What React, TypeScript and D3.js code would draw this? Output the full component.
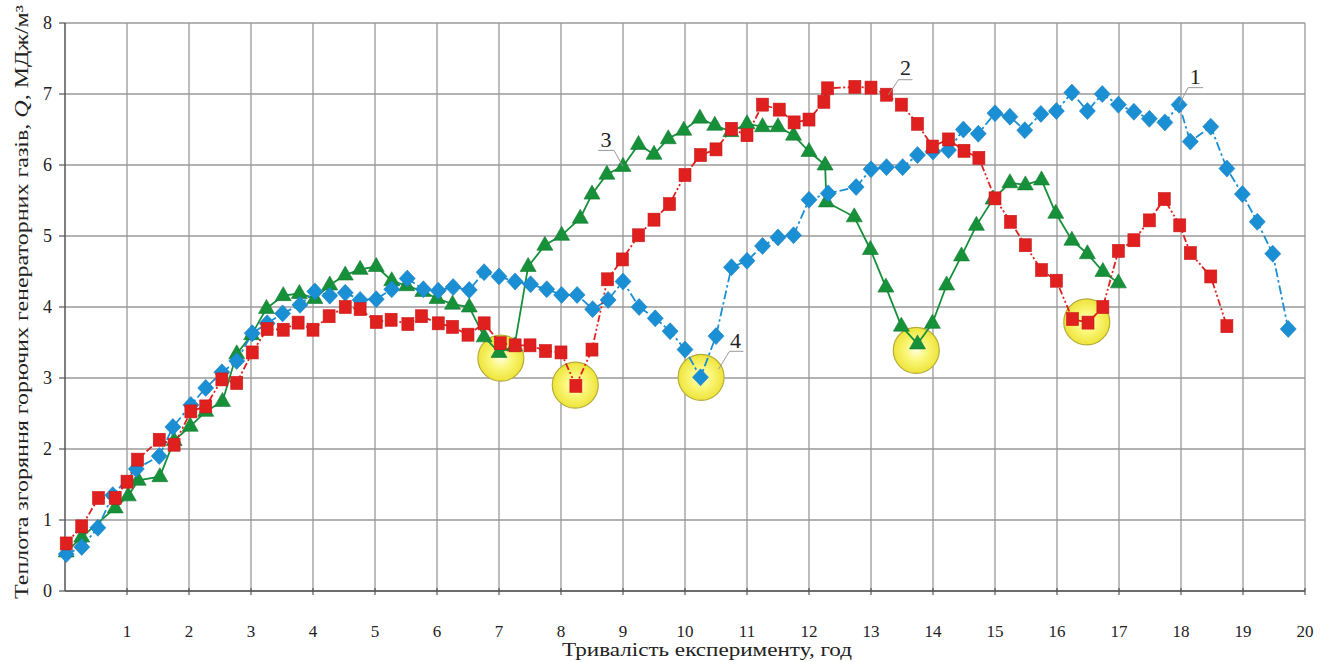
import React from "react";
import * as d3 from "d3";

const xTicks = [1,2,3,4,5,6,7,8,9,10,11,12,13,14,15,16,17,18,19,20];
const yTicks = [0,1,2,3,4,5,6,7,8];

// series 1 (blue diamonds)
const series1: [number, number][] = [
  [0.02,0.52],[0.27,0.62],[0.53,0.89],[0.77,1.35],[1.15,1.72],[1.52,1.90],[1.74,2.31],[2.03,2.62],[2.27,2.86],[2.53,3.08],
  [2.77,3.24],[3.02,3.63],[3.26,3.77],[3.51,3.91],[3.79,4.03],[4.03,4.22],[4.27,4.16],[4.52,4.20],[4.76,4.10],[5.02,4.11],
  [5.27,4.25],[5.52,4.40],[5.78,4.25],[6.02,4.23],[6.26,4.28],[6.52,4.24],[6.76,4.49],[7.0,4.43],[7.26,4.36],[7.51,4.32],
  [7.77,4.25],[8.01,4.17],[8.26,4.17],[8.51,3.97],[8.76,4.10],[9.0,4.36],[9.26,4.00],[9.52,3.84],[9.76,3.66],[10.0,3.40],
  [10.25,3.01],[10.5,3.59],[10.75,4.56],[11.0,4.65],[11.25,4.86],[11.5,4.98],[11.75,5.01],[12.0,5.51],[12.31,5.60],[12.76,5.69],
  [13.0,5.94],[13.25,5.97],[13.51,5.97],[13.75,6.14],[14.0,6.19],[14.25,6.21],[14.49,6.50],[14.73,6.44],[15.0,6.73],[15.24,6.68],
  [15.48,6.49],[15.74,6.72],[15.99,6.76],[16.24,7.02],[16.49,6.76],[16.73,7.0],[16.99,6.85],[17.24,6.75],[17.49,6.65],[17.74,6.60],
  [17.97,6.85],[18.15,6.33],[18.48,6.54],[18.74,5.95],[18.99,5.59],[19.23,5.20],[19.48,4.75],[19.73,3.69]
];

// series 2 (red squares)
const series2: [number, number][] = [
  [0.02,0.67],[0.27,0.91],[0.54,1.31],[0.81,1.31],[1.0,1.54],[1.17,1.85],[1.52,2.13],[1.76,2.06],[2.03,2.53],[2.27,2.60],
  [2.53,2.98],[2.77,2.93],[3.02,3.36],[3.26,3.69],[3.52,3.68],[3.76,3.78],[4.0,3.68],[4.26,3.87],[4.52,4.0],[4.76,3.97],
  [5.02,3.79],[5.26,3.82],[5.53,3.76],[5.75,3.87],[6.02,3.77],[6.25,3.72],[6.5,3.61],[6.76,3.77],[7.02,3.49],[7.26,3.46],
  [7.5,3.46],[7.75,3.38],[8.0,3.36],[8.24,2.89],[8.5,3.40],[8.75,4.39],[8.99,4.67],[9.25,5.01],[9.5,5.23],[9.75,5.45],
  [10.0,5.86],[10.25,6.14],[10.5,6.22],[10.75,6.51],[11.0,6.42],[11.25,6.85],[11.52,6.78],[11.76,6.60],[12.0,6.64],[12.24,6.89],
  [12.3,7.08],[12.74,7.10],[13.0,7.09],[13.25,6.99],[13.49,6.85],[13.75,6.58],[13.99,6.26],[14.25,6.36],[14.5,6.20],[14.74,6.10],
  [15.0,5.53],[15.25,5.20],[15.49,4.87],[15.75,4.52],[15.99,4.37],[16.25,3.83],[16.5,3.78],[16.74,4.0],[16.99,4.79],[17.24,4.94],
  [17.49,5.22],[17.73,5.52],[17.98,5.15],[18.15,4.76],[18.48,4.43],[18.74,3.73]
];

// series 3 (green triangles)
const series3: [number, number][] = [
  [0.02,0.55],[0.27,0.76],[0.81,1.17],[1.02,1.34],[1.18,1.56],[1.53,1.61],[1.76,2.12],[2.02,2.32],[2.27,2.53],[2.54,2.67],
  [2.77,3.34],[3.01,3.61],[3.25,3.98],[3.52,4.16],[3.78,4.19],[4.03,4.12],[4.27,4.31],[4.52,4.45],[4.76,4.53],[5.02,4.57],
  [5.27,4.37],[5.51,4.30],[5.77,4.22],[6.0,4.12],[6.25,4.04],[6.52,4.0],[6.76,3.58],[7.0,3.36],[7.25,3.45],[7.47,4.57],
  [7.74,4.87],[8.01,5.01],[8.31,5.25],[8.5,5.59],[8.74,5.87],[9.0,5.98],[9.25,6.29],[9.5,6.15],[9.73,6.37],[9.98,6.49],
  [10.24,6.66],[10.48,6.56],[10.74,6.47],[11.0,6.58],[11.25,6.54],[11.5,6.54],[11.75,6.42],[12.0,6.19],[12.26,6.0],[12.28,5.48],
  [12.73,5.27],[12.99,4.81],[13.24,4.28],[13.49,3.73],[13.75,3.48],[13.99,3.77],[14.22,4.31],[14.46,4.72],[14.7,5.15],[14.97,5.52],
  [15.24,5.75],[15.49,5.72],[15.75,5.79],[15.98,5.32],[16.24,4.94],[16.49,4.75],[16.74,4.50],[16.99,4.34]
];

// highlighted minima (yellow circles)
const highlights: [number, number][] = [[7.03,3.28],[8.23,2.9],[10.26,3.01],[13.73,3.39],[16.48,3.79]];

// curve number labels: text, anchor x, anchor y
const curveLabels = [
  { text: "1", x: 17.97, y: 6.85 },
  { text: "2", x: 13.25, y: 6.99 },
  { text: "3", x: 9.0, y: 5.98 },
  { text: "4", x: 10.25, y: 3.01 },
];

const W = 1335, H = 662;
const M = { left: 65, right: 1305, top: 23, bottom: 591 };
const FONT = "Liberation Serif, Times New Roman, serif";
const BLUE = "#1b8fd4", RED = "#e0201e", GREEN = "#17903a";

export default function App() {
  const x = d3.scaleLinear().domain([0, 20]).range([M.left, M.right]);
  const y = d3.scaleLinear().domain([0, 8]).range([M.bottom, M.top]);
  const line = d3.line<[number, number]>().x(d => x(d[0])).y(d => y(d[1]));

  const diamond = (px: number, py: number, k: string) => (
    <polygon key={k} points={`${px},${py - 8.5} ${px + 8},${py} ${px},${py + 8.5} ${px - 8},${py}`} fill={BLUE} stroke="#1580c0" strokeWidth={0.6} />
  );
  const square = (px: number, py: number, k: string) => (
    <rect key={k} x={px - 6} y={py - 6.5} width={12} height={13} fill={RED} stroke="#c81818" strokeWidth={0.6} />
  );
  const triangle = (px: number, py: number, k: string) => (
    <polygon key={k} points={`${px},${py - 9} ${px + 8},${py + 5} ${px - 8},${py + 5}`} fill={GREEN} stroke="#127a30" strokeWidth={0.6} />
  );

  const leaderFor = (t: string, px: number, py: number) => {
    if (t === "1") return { path: `M${px},${py} L${px + 9},${py - 17} L${px + 24},${py - 17}`, tx: px + 16, ty: py - 21 };
    if (t === "2") return { path: `M${px + 2},${py} L${px + 12},${py - 15} L${px + 26},${py - 15}`, tx: px + 19, ty: py - 20 };
    if (t === "3") return { path: `M${px},${py} L${px - 9},${py - 16} L${px - 25},${py - 16}`, tx: px - 17, ty: py - 19 };
    return { path: `M${px + 18},${py - 8} L${px + 29},${py - 26} L${px + 43},${py - 26}`, tx: px + 35, ty: py - 29 };
  };

  return (
    <svg width={W} height={H} style={{ position: "absolute", left: 0, top: 0, background: "#fff", fontFamily: FONT }}>
      <defs>
        <radialGradient id="yg" cx="50%" cy="50%" r="50%">
          <stop offset="0%" stopColor="#fffde0" />
          <stop offset="45%" stopColor="#fbf77a" />
          <stop offset="100%" stopColor="#eee43a" />
        </radialGradient>
      </defs>
      <rect x={0} y={0} width={W} height={H} fill="#fff" />
      {xTicks.map(t => (
        <line key={"gx" + t} x1={x(t)} x2={x(t)} y1={M.top} y2={M.bottom} stroke="#9a9a9a" strokeWidth={1.3} />
      ))}
      {yTicks.map(t => (
        <line key={"gy" + t} x1={M.left} x2={M.right} y1={y(t)} y2={y(t)} stroke="#9a9a9a" strokeWidth={1.3} />
      ))}
      <line x1={M.left} x2={M.left} y1={M.top} y2={M.bottom} stroke="#555" strokeWidth={1.5} />
      <line x1={M.left} x2={M.right} y1={M.bottom} y2={M.bottom} stroke="#555" strokeWidth={1.5} />
      {yTicks.map(t => (
        <line key={"ty" + t} x1={M.left - 6} x2={M.left} y1={y(t)} y2={y(t)} stroke="#555" strokeWidth={1.2} />
      ))}
      {xTicks.map(t => (
        <line key={"tx" + t} x1={x(t)} x2={x(t)} y1={M.bottom - 3} y2={M.bottom + 4} stroke="#555" strokeWidth={1.2} />
      ))}
      {yTicks.map(t => (
        <text key={"ly" + t} x={52} y={y(t) + 6} textAnchor="end" fontSize={18} fill="#222" style={{ fontFamily: FONT }}>{t}</text>
      ))}
      {xTicks.map(t => (
        <text key={"lx" + t} x={x(t)} y={637} textAnchor="middle" fontSize={17} fill="#222" style={{ fontFamily: FONT }}>{t}</text>
      ))}
      <text x={707} y={656} textAnchor="middle" fontSize={19} fill="#222" textLength={290} lengthAdjust="spacingAndGlyphs" style={{ fontFamily: FONT }}>
        Тривалість експерименту, год
      </text>
      <text transform="translate(28,302) rotate(-90)" textAnchor="middle" fontSize={18} fill="#222" textLength={594} lengthAdjust="spacingAndGlyphs" style={{ fontFamily: FONT }}>
        Теплота згоряння горючих генераторних газів, <tspan fontStyle="italic">Q</tspan>, МДж/м³
      </text>
      {highlights.map((h, i) => (
        <circle key={"h" + i} cx={x(h[0])} cy={y(h[1])} r={23} fill="url(#yg)" stroke="#b5ad3a" strokeWidth={1.2} />
      ))}
      <path d={line(series3) || ""} fill="none" stroke={GREEN} strokeWidth={1.8} />
      <path d={line(series1) || ""} fill="none" stroke={BLUE} strokeWidth={1.8} strokeDasharray="9 3 2.5 3" />
      <path d={line(series2) || ""} fill="none" stroke={RED} strokeWidth={1.8} strokeDasharray="7 2.5 2 2.5 2 2.5" />
      {series3.map((d, i) => triangle(x(d[0]), y(d[1]), "g" + i))}
      {series1.map((d, i) => diamond(x(d[0]), y(d[1]), "b" + i))}
      {series2.map((d, i) => square(x(d[0]), y(d[1]), "r" + i))}
      {curveLabels.map(c => {
        const L = leaderFor(c.text, x(c.x), y(c.y));
        return (
          <g key={"c" + c.text}>
            <path d={L.path} fill="none" stroke="#999" strokeWidth={1} />
            <text x={L.tx} y={L.ty} textAnchor="middle" fontSize={22} fill="#222" style={{ fontFamily: FONT }}>{c.text}</text>
          </g>
        );
      })}
    </svg>
  );
}
